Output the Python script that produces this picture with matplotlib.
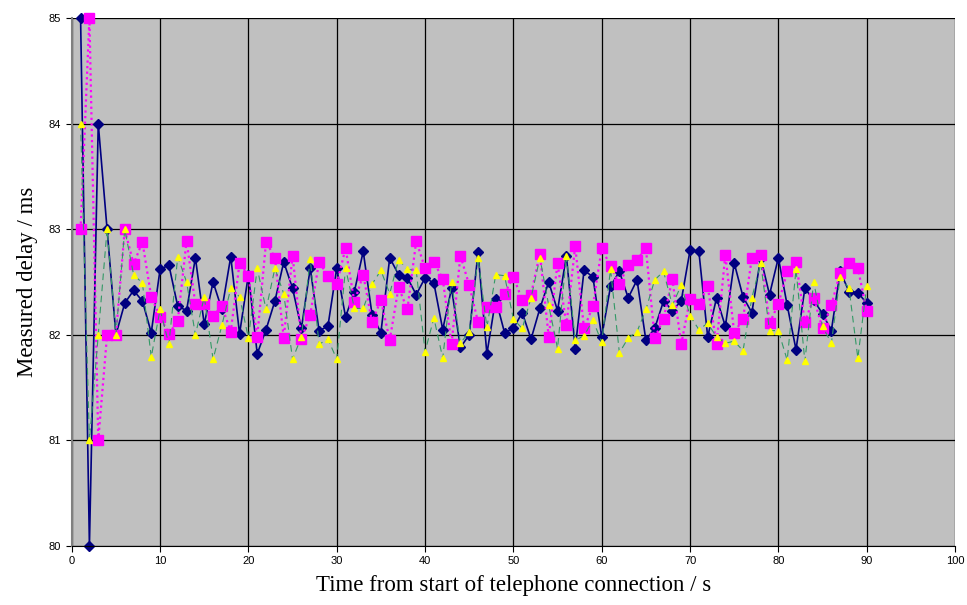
import matplotlib
matplotlib.use("Agg")
import matplotlib.pyplot as plt
import numpy as np

# seconds 1..90
t = np.arange(1, 91)

delay_a = [85.0, 80.0, 84.0, 83.0, 82.0, 82.30, 82.42, 82.32, 82.02, 82.62,
           82.66, 82.27, 82.23, 82.73, 82.10, 82.50, 82.24, 82.74, 82.01, 82.57,
           81.82, 82.05, 82.32, 82.69, 82.44, 82.06, 82.63, 82.04, 82.08, 82.63,
           82.17, 82.41, 82.79, 82.19, 82.02, 82.73, 82.57, 82.54, 82.38, 82.54,
           82.49, 82.05, 82.44, 81.88, 82.00, 82.78, 81.82, 82.34, 82.02, 82.06,
           82.21, 81.96, 82.25, 82.50, 82.23, 82.75, 81.87, 82.61, 82.55, 81.98,
           82.46, 82.60, 82.35, 82.52, 81.95, 82.06, 82.32, 82.23, 82.32, 82.80,
           82.79, 81.98, 82.35, 82.08, 82.68, 82.36, 82.21, 82.73, 82.38, 82.73,
           82.28, 81.86, 82.44, 82.33, 82.20, 82.04, 82.60, 82.41, 82.40, 82.30]

delay_b = [83.0, 85.0, 81.0, 82.0, 82.0, 83.0, 82.67, 82.88, 82.36, 82.17,
           82.01, 82.13, 82.89, 82.29, 82.29, 82.18, 82.27, 82.03, 82.68, 82.56,
           81.98, 82.88, 82.73, 81.97, 82.75, 81.96, 82.19, 82.69, 82.56, 82.48,
           82.82, 82.31, 82.57, 82.12, 82.33, 81.95, 82.45, 82.24, 82.89, 82.63,
           82.69, 82.53, 81.91, 82.75, 82.47, 82.12, 82.26, 82.26, 82.39, 82.55,
           82.33, 82.38, 82.77, 81.98, 82.68, 82.09, 82.84, 82.06, 82.27, 82.82,
           82.65, 82.48, 82.66, 82.71, 82.82, 81.97, 82.15, 82.53, 81.91, 82.34,
           82.29, 82.46, 81.91, 82.76, 82.02, 82.15, 82.73, 82.76, 82.11, 82.29,
           82.60, 82.69, 82.12, 82.35, 82.06, 82.28, 82.59, 82.68, 82.63, 82.23]

delay_c = [84.0, 81.0, 82.0, 83.0, 82.0, 83.0, 82.57, 82.49, 81.79, 82.24,
           81.91, 82.74, 82.50, 82.00, 82.36, 81.77, 82.09, 82.44, 82.36, 81.97,
           82.63, 82.24, 82.63, 82.39, 81.77, 81.98, 82.72, 81.91, 81.96, 81.77,
           82.63, 82.25, 82.25, 82.48, 82.61, 82.39, 82.71, 82.62, 82.61, 81.84,
           82.16, 81.78, 82.50, 81.92, 82.03, 82.73, 82.07, 82.57, 82.56, 82.15,
           82.06, 82.35, 82.73, 82.28, 81.87, 82.75, 81.95, 81.99, 82.14, 81.93,
           82.62, 81.83, 81.97, 82.03, 82.24, 82.52, 82.60, 82.28, 82.47, 82.18,
           82.05, 82.11, 81.98, 81.92, 81.94, 81.85, 82.35, 82.68, 82.04, 82.04,
           81.76, 82.62, 81.75, 82.50, 82.08, 81.92, 82.55, 82.44, 81.78, 82.46]

fig = plt.figure(figsize=(9.67, 6.05), dpi=100)
ax = fig.add_axes([0.0742, 0.0975, 0.9134, 0.8727])
ax.set_facecolor('#C0C0C0')

# drawn in series order: navy, magenta, then yellow on top
ax.plot(t, delay_a, color='#000080', linestyle='-', linewidth=1.2,
        marker='D', markersize=4.8, markerfacecolor='#000080',
        markeredgecolor='#000080', clip_on=False, zorder=2)
ax.plot(t, delay_b, color='#FF00FF', linestyle=(0, (1, 1.5)), linewidth=1.6,
        marker='s', markersize=6.5, markerfacecolor='#FF00FF',
        markeredgecolor='#FF00FF', clip_on=False, zorder=3)
ax.plot(t, delay_c, color='#339966', linestyle=(0, (6, 4)), linewidth=0.8,
        marker='^', markersize=5, markerfacecolor='#FFFF00',
        markeredgecolor='#FFFF00', clip_on=False, zorder=4)

ax.set_xlim(0, 100)
ax.set_ylim(80, 85)
ax.set_xticks(np.arange(0, 101, 10))
ax.set_yticks(np.arange(80, 86, 1))
ax.grid(True, color='black', linewidth=0.9)
ax.set_axisbelow(True)

for s in ['top', 'right']:
    ax.spines[s].set_visible(False)
ax.spines['left'].set_color('#808080')
ax.spines['left'].set_linewidth(1.5)
ax.spines['bottom'].set_color('black')

ax.tick_params(direction='out', length=4, width=0.8, labelsize=8)
for lab in ax.get_xticklabels() + ax.get_yticklabels():
    lab.set_family('Liberation Sans')

ax.set_xlabel('Time from start of telephone connection / s',
              family='Liberation Serif', fontsize=16.5, labelpad=6)
ax.set_ylabel('Measured delay / ms', family='Liberation Serif',
              fontsize=16.5, labelpad=8)

fig.savefig('out.png', dpi=100)
